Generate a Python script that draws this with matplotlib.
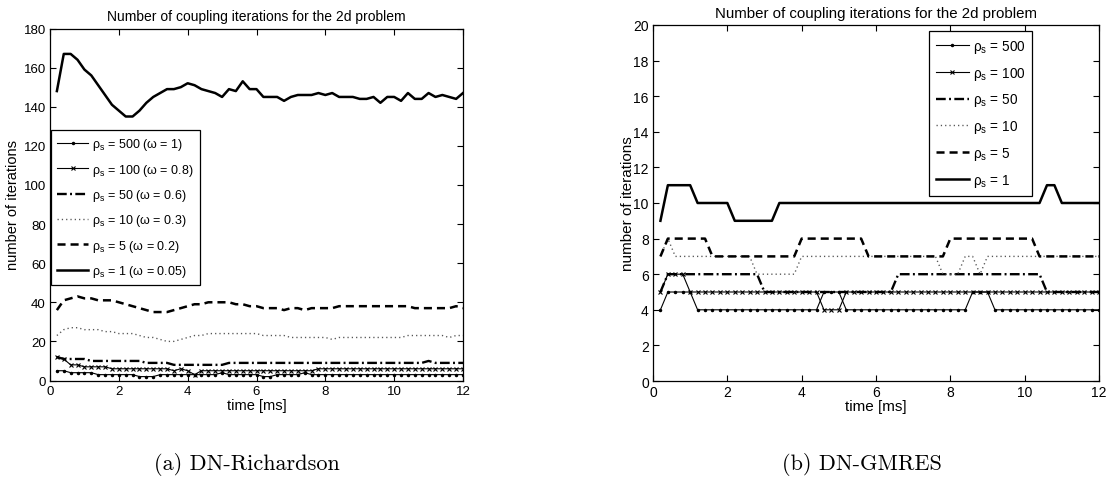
import matplotlib
matplotlib.use("Agg")
import matplotlib.pyplot as plt

plt.rcParams['font.family'] = ['Liberation Sans', 'DejaVu Sans']
plt.rcParams['mathtext.fontset'] = 'custom'
plt.rcParams['mathtext.rm'] = 'Liberation Sans'
plt.rcParams['mathtext.it'] = 'Liberation Sans'
plt.rcParams['lines.scale_dashes'] = False

# ---------------- data ----------------
time_ms = [0.2, 0.4, 0.6, 0.8, 1.0, 1.2, 1.4, 1.6, 1.8, 2.0,
           2.2, 2.4, 2.6, 2.8, 3.0, 3.2, 3.4, 3.6, 3.8, 4.0,
           4.2, 4.4, 4.6, 4.8, 5.0, 5.2, 5.4, 5.6, 5.8, 6.0,
           6.2, 6.4, 6.6, 6.8, 7.0, 7.2, 7.4, 7.6, 7.8, 8.0,
           8.2, 8.4, 8.6, 8.8, 9.0, 9.2, 9.4, 9.6, 9.8, 10.0,
           10.2, 10.4, 10.6, 10.8, 11.0, 11.2, 11.4, 11.6, 11.8, 12.0]

# (a) DN-Richardson
rich_500 = [5, 5, 4, 4, 4, 4, 3, 3, 3, 3,
            3, 3, 2, 2, 2, 3, 3, 3, 3, 3,
            3, 3, 3, 3, 4, 3, 3, 3, 3, 3,
            2, 2, 3, 3, 3, 3, 4, 3, 3, 3,
            3, 3, 3, 3, 3, 3, 3, 3, 3, 3,
            3, 3, 3, 3, 3, 3, 3, 3, 3, 3]
rich_100 = [12, 11, 8, 8, 7, 7, 7, 7, 6, 6,
            6, 6, 6, 6, 6, 6, 6, 5, 6, 5,
            3, 5, 5, 5, 5, 5, 5, 5, 5, 5,
            5, 5, 5, 5, 5, 5, 5, 5, 6, 6,
            6, 6, 6, 6, 6, 6, 6, 6, 6, 6,
            6, 6, 6, 6, 6, 6, 6, 6, 6, 6]
rich_50 = [12, 11, 11, 11, 11, 10, 10, 10, 10, 10,
           10, 10, 10, 9, 9, 9, 9, 8, 8, 8,
           8, 8, 8, 8, 8, 9, 9, 9, 9, 9,
           9, 9, 9, 9, 9, 9, 9, 9, 9, 9,
           9, 9, 9, 9, 9, 9, 9, 9, 9, 9,
           9, 9, 9, 9, 10, 9, 9, 9, 9, 9]
rich_10 = [23, 26, 27, 27, 26, 26, 26, 25, 25, 24,
           24, 24, 23, 22, 22, 21, 20, 20, 21, 22,
           23, 23, 24, 24, 24, 24, 24, 24, 24, 24,
           23, 23, 23, 23, 22, 22, 22, 22, 22, 22,
           21, 22, 22, 22, 22, 22, 22, 22, 22, 22,
           22, 23, 23, 23, 23, 23, 23, 22, 23, 23]
rich_5 = [36, 41, 42, 43, 42, 42, 41, 41, 41, 40,
          39, 38, 37, 36, 35, 35, 35, 36, 37, 38,
          39, 39, 40, 40, 40, 40, 39, 39, 38, 38,
          37, 37, 37, 36, 37, 37, 36, 37, 37, 37,
          37, 38, 38, 38, 38, 38, 38, 38, 38, 38,
          38, 38, 37, 37, 37, 37, 37, 37, 38, 37]
rich_1 = [148, 167, 167, 164, 159, 156, 151, 146, 141, 138,
          135, 135, 138, 142, 145, 147, 149, 149, 150, 152,
          151, 149, 148, 147, 145, 149, 148, 153, 149, 149,
          145, 145, 145, 143, 145, 146, 146, 146, 147, 146,
          147, 145, 145, 145, 144, 144, 145, 142, 145, 145,
          143, 147, 144, 144, 147, 145, 146, 145, 144, 147]

# (b) DN-GMRES
gm_500 = [4, 5, 5, 5, 5, 4, 4, 4, 4, 4,
          4, 4, 4, 4, 4, 4, 4, 4, 4, 4,
          4, 4, 5, 5, 5, 4, 4, 4, 4, 4,
          4, 4, 4, 4, 4, 4, 4, 4, 4, 4,
          4, 4, 5, 5, 5, 4, 4, 4, 4, 4,
          4, 4, 4, 4, 4, 4, 4, 4, 4, 4]
gm_100 = [5, 6, 6, 6, 5, 5, 5, 5, 5, 5,
          5, 5, 5, 5, 5, 5, 5, 5, 5, 5,
          5, 5, 4, 4, 4, 5, 5, 5, 5, 5,
          5, 5, 5, 5, 5, 5, 5, 5, 5, 5,
          5, 5, 5, 5, 5, 5, 5, 5, 5, 5,
          5, 5, 5, 5, 5, 5, 5, 5, 5, 5]
gm_50 = [5, 6, 6, 6, 6, 6, 6, 6, 6, 6,
         6, 6, 6, 6, 5, 5, 5, 5, 5, 5,
         5, 5, 5, 5, 5, 5, 5, 5, 5, 5,
         5, 5, 6, 6, 6, 6, 6, 6, 6, 6,
         6, 6, 6, 6, 6, 6, 6, 6, 6, 6,
         6, 6, 5, 5, 5, 5, 5, 5, 5, 5]
gm_10 = [7, 8, 7, 7, 7, 7, 7, 7, 7, 7,
         7, 7, 7, 6, 6, 6, 6, 6, 6, 7,
         7, 7, 7, 7, 7, 7, 7, 7, 7, 7,
         7, 7, 7, 7, 7, 7, 7, 7, 6, 6,
         6, 7, 7, 6, 7, 7, 7, 7, 7, 7,
         7, 7, 7, 7, 7, 7, 7, 7, 7, 7]
gm_5 = [7, 8, 8, 8, 8, 8, 8, 7, 7, 7,
        7, 7, 7, 7, 7, 7, 7, 7, 7, 8,
        8, 8, 8, 8, 8, 8, 8, 8, 7, 7,
        7, 7, 7, 7, 7, 7, 7, 7, 7, 8,
        8, 8, 8, 8, 8, 8, 8, 8, 8, 8,
        8, 7, 7, 7, 7, 7, 7, 7, 7, 7]
gm_1 = [9, 11, 11, 11, 11, 10, 10, 10, 10, 10,
        9, 9, 9, 9, 9, 9, 10, 10, 10, 10,
        10, 10, 10, 10, 10, 10, 10, 10, 10, 10,
        10, 10, 10, 10, 10, 10, 10, 10, 10, 10,
        10, 10, 10, 10, 10, 10, 10, 10, 10, 10,
        10, 10, 11, 11, 10, 10, 10, 10, 10, 10]

rich_labels = ['ρ$_\\mathrm{s}$ = 500 (ω = 1)', 'ρ$_\\mathrm{s}$ = 100 (ω = 0.8)',
               'ρ$_\\mathrm{s}$ = 50 (ω = 0.6)', 'ρ$_\\mathrm{s}$ = 10 (ω = 0.3)',
               'ρ$_\\mathrm{s}$ = 5 (ω = 0.2)', 'ρ$_\\mathrm{s}$ = 1 (ω = 0.05)']
gm_labels = ['ρ$_\\mathrm{s}$ = 500', 'ρ$_\\mathrm{s}$ = 100', 'ρ$_\\mathrm{s}$ = 50',
             'ρ$_\\mathrm{s}$ = 10', 'ρ$_\\mathrm{s}$ = 5', 'ρ$_\\mathrm{s}$ = 1']

title = 'Number of coupling iterations for the 2d problem'

# ---------------- styles ----------------
styles = [
    dict(color='black', lw=0.8, marker='.', ms=3.0),
    dict(color='black', lw=0.8, marker='x', ms=3.2, mew=0.8),
    dict(color='black', lw=1.7, dashes=(7.0, 2.4, 1.4, 2.4)),
    dict(color='#555555', lw=1.0, dashes=(0.9, 2.2)),
    dict(color='black', lw=1.8, dashes=(5.8, 3.6)),
    dict(color='black', lw=1.8, ls='-'),
]

W, H = 1111, 481
fig = plt.figure(figsize=(W / 100, H / 100), dpi=100)


def px_axes(x0, y0, x1, y1):
    return fig.add_axes([x0 / W, 1 - y1 / H, (x1 - x0) / W, (y1 - y0) / H])


def style_axes(ax, fs):
    ax.tick_params(direction='in', top=True, right=True, length=4, width=0.8,
                   labelsize=fs, pad=3, color='black')
    for s in ax.spines.values():
        s.set_linewidth(0.9)
        s.set_color('black')


# (a)
axa = px_axes(50, 29.5, 463, 381.5)
series_a = [rich_500, rich_100, rich_50, rich_10, rich_5, rich_1]
for y, st, lab in zip(series_a, styles, rich_labels):
    axa.plot(time_ms, y, label=lab, **st)
axa.set_xlim(0, 12)
axa.set_ylim(0, 180)
axa.set_xticks([0, 2, 4, 6, 8, 10, 12])
axa.set_yticks(range(0, 181, 20))
style_axes(axa, 9.5)
axa.set_title(title, fontsize=10, pad=6)
axa.set_xlabel('time [ms]', fontsize=10.5)
axa.set_ylabel('number of iterations', fontsize=10.5)
axa.xaxis.set_label_coords(0.5, -0.05)
axa.yaxis.set_label_coords(-0.072, 0.5)
lega = axa.legend(loc='upper left', bbox_to_anchor=(0.002, 0.712), borderaxespad=0,
                  fontsize=9, handlelength=2.5, handletextpad=0.3, labelspacing=0.75,
                  fancybox=False, framealpha=1, edgecolor='black', borderpad=0.5)
lega.get_frame().set_linewidth(0.9)

# (b)
axb = px_axes(653, 26, 1099, 382)
series_b = [gm_500, gm_100, gm_50, gm_10, gm_5, gm_1]
for y, st, lab in zip(series_b, styles, gm_labels):
    axb.plot(time_ms, y, label=lab, **st)
axb.set_xlim(0, 12)
axb.set_ylim(0, 20)
axb.set_xticks([0, 2, 4, 6, 8, 10, 12])
axb.set_yticks(range(0, 21, 2))
style_axes(axb, 10)
axb.set_title(title, fontsize=10.8, pad=6)
axb.set_xlabel('time [ms]', fontsize=11)
axb.set_ylabel('number of iterations', fontsize=11)
axb.xaxis.set_label_coords(0.5, -0.05)
axb.yaxis.set_label_coords(-0.040, 0.5)
legb = axb.legend(loc='upper left', bbox_to_anchor=(0.619, 0.983), borderaxespad=0,
                  fontsize=9.8, handlelength=2.4, handletextpad=0.3, labelspacing=0.72,
                  fancybox=False, framealpha=1, edgecolor='black', borderpad=0.5)
legb.get_frame().set_linewidth(0.9)

# captions
fig.text(246.5 / W, 1 - 465 / H, '(a) DN-Richardson', family='cmr10', fontsize=16,
         ha='center', va='center')
fig.text(862 / W, 1 - 465 / H, '(b) DN-GMRES', family='cmr10', fontsize=16,
         ha='center', va='center')

fig.savefig('out.png', dpi=100)
